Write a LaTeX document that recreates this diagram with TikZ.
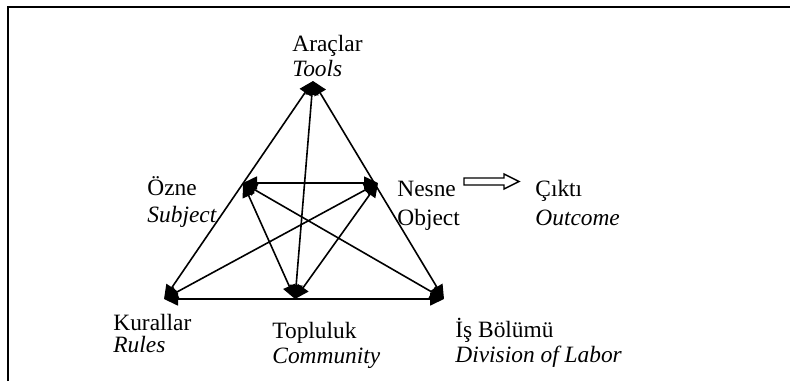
\documentclass[tikz,border=0pt]{standalone}
\usepackage{fontspec}
\setmainfont{Liberation Serif}
\usetikzlibrary{arrows.meta}

\begin{document}
\begin{tikzpicture}[x=0.5pt,y=-0.5pt,
		lbl/.style={anchor=base west,inner sep=0pt,font=\fontsize{11.7pt}{14pt}\selectfont},
		itlbl/.style={lbl,font=\fontsize{11.7pt}{14pt}\selectfont\itshape},
		link/.style={line width=0.8pt,{Triangle[length=7pt,width=6.5pt]}-{Triangle[length=7pt,width=6.5pt]}}]
		\useasboundingbox (0,0) rectangle (790,381);
		\draw[line width=1pt] (8,381) -- (8,7) -- (790,7);
		% corners of the system
		\coordinate (T) at (313,81);
		\coordinate (S) at (243,183);
		\coordinate (O) at (378,183);
		\coordinate (R) at (164,299);
		\coordinate (C) at (295,299);
		\coordinate (D) at (444,299);
		\draw[link] (T) -- (R);
		\draw[link] (T) -- (D);
		\draw[link] (T) -- (C);
		\draw[link] (S) -- (O);
		\draw[link] (S) -- (C);
		\draw[link] (S) -- (D);
		\draw[link] (O) -- (R);
		\draw[link] (O) -- (C);
		\draw[link] (R) -- (D);
		% labels
		\node[lbl] (araclar) at (292,51) {Araçlar};
		\node[itlbl] (tools) at (292,76) {Tools};
		\node[lbl] (ozne) at (147,195) {Özne};
		\node[itlbl] (subject) at (147,222) {Subject};
		\node[lbl] (nesne) at (397,196) {Nesne};
		\node[lbl] (object) at (397,225) {Object};
		\node[lbl] (cikti) at (535,196) {Çıktı};
		\node[itlbl] (outcome) at (535,225) {Outcome};
		\node[lbl] (kurallar) at (113,330) {Kurallar};
		\node[itlbl] (rules) at (113,352) {Rules};
		\node[lbl] (topluluk) at (272,338) {Topluluk};
		\node[itlbl] (community) at (272,363) {Community};
		\node[lbl] (isbolumu) at (455,337) {İş Bölümü};
		\node[itlbl] (division) at (455,362) {Division of Labor};
		% outline arrow towards the outcome
		\coordinate (out) at (464,181.5);
		\draw[line width=0.7pt] (out) ++(0,-3.5) -- ++(40,0) -- ++(0,-4) -- ++(15,7.5)
			-- ++(-15,7.5) -- ++(0,-4) -- ++(-40,0) -- cycle;
\end{tikzpicture}
\end{document}
